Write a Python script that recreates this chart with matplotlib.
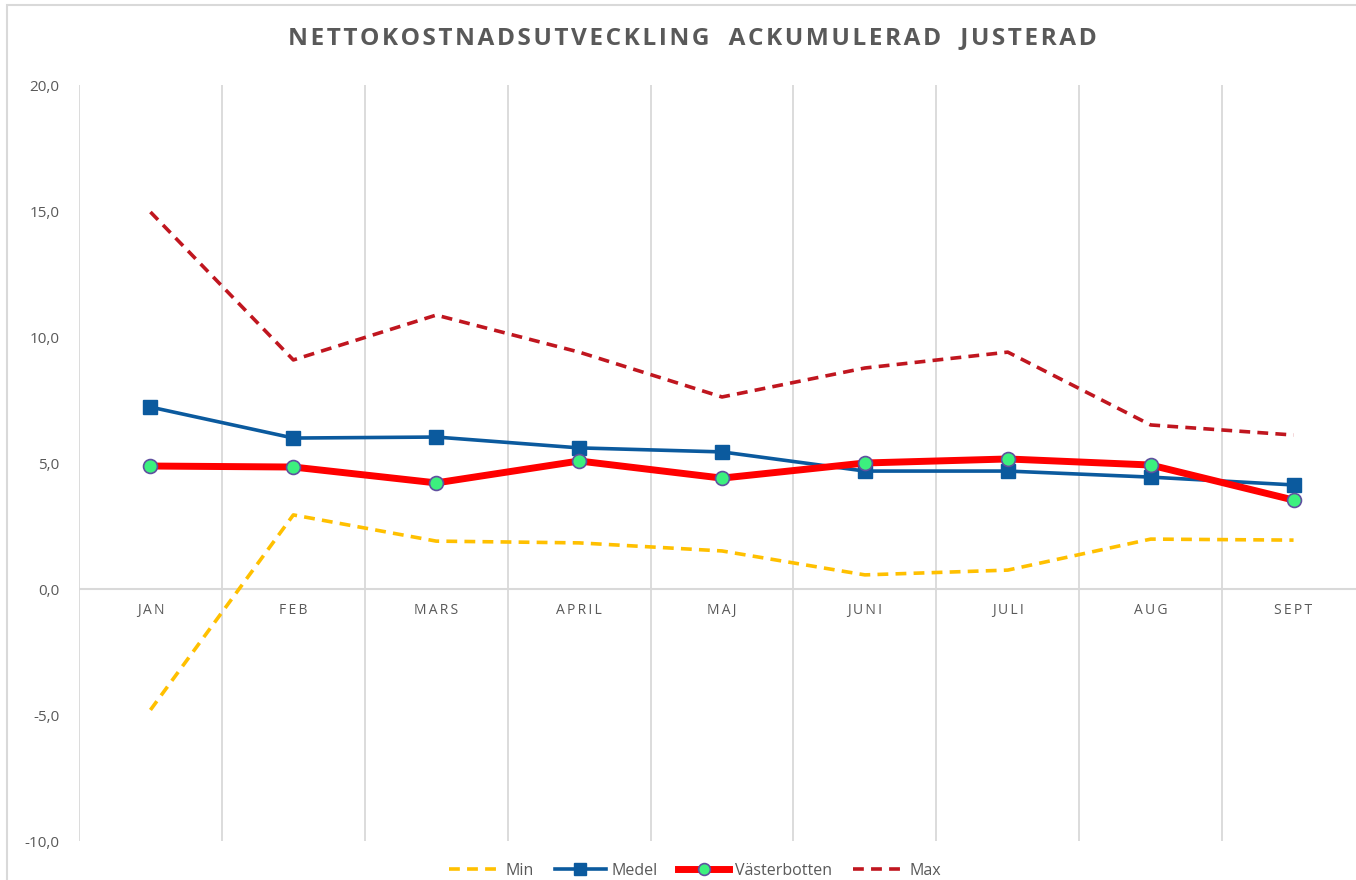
import matplotlib.pyplot as plt
from matplotlib.patches import Rectangle

# data
months = ["JAN", "FEB", "MARS", "APRIL", "MAJ", "JUNI", "JULI", "AUG", "SEPT"]
min_vals = [-4.8, 2.94, 1.90, 1.83, 1.51, 0.56, 0.75, 1.98, 1.94]
medel_vals = [7.22, 5.99, 6.03, 5.60, 5.44, 4.68, 4.68, 4.44, 4.13]
vasterbotten_vals = [4.88, 4.84, 4.21, 5.08, 4.40, 5.00, 5.16, 4.92, 3.53]
max_vals = [14.96, 9.09, 10.87, 9.40, 7.62, 8.77, 9.40, 6.51, 6.11]
y_ticks = [-10, -5, 0, 5, 10, 15, 20]

TEXT = "#595959"
GRID = "#D9D9D9"
plt.rcParams['font.family'] = ['Open Sans', 'DejaVu Sans']

fig = plt.figure(figsize=(13.56, 8.8), dpi=100)
ax = fig.add_axes([79 / 1356, 1 - 841 / 880, 1286 / 1356, 756 / 880])

# outer chart frame (cut off on the right and bottom)
fig.patches.append(Rectangle((7 / 1356, -0.1), 1.1, 0.1 + (880 - 5) / 880,
                             transform=fig.transFigure, fill=False,
                             edgecolor=GRID, linewidth=1.5, zorder=0))

x = list(range(len(months)))
ax.plot(x, max_vals, color="#C0161F", linestyle=(0, (3, 2)), linewidth=2.6,
        label="Max", zorder=3)
ax.plot(x, min_vals, color="#FFC000", linestyle=(0, (3, 2)), linewidth=2.6,
        label="Min", zorder=3)
ax.plot(x, medel_vals, color="#0B5A9E", linewidth=2.6, marker="s",
        markersize=10, label="Medel", zorder=4)
ax.plot(x, vasterbotten_vals, color="#FF0000", linewidth=5, marker="o",
        markersize=10, markerfacecolor="#3CF07E", markeredgecolor="#6050A0",
        markeredgewidth=1.2, label="Västerbotten", zorder=5)

ax.set_xlim(-0.5, len(months) - 0.5)
ax.set_ylim(-10, 20)
ax.set_yticks(y_ticks)
ax.set_yticklabels([f"{v:.1f}".replace(".", ",") for v in y_ticks])
ax.set_xticks([])

# month labels sit just under the zero line
for i, m in enumerate(months):
    ax.text(i, -0.55, "\u2009".join(m), ha="center", va="top",
            fontsize=10, color=TEXT)

# vertical category boundary lines
for b in range(len(months) + 1):
    ax.axvline(b - 0.5, color=GRID, linewidth=1.3, zorder=1)
ax.axhline(0, color=GRID, linewidth=1.5, zorder=1)

for s in ax.spines.values():
    s.set_visible(False)
ax.tick_params(axis="y", length=0, labelsize=11, labelcolor=TEXT, pad=14)

title = "NETTOKOSTNADSUTVECKLING ACKUMULERAD JUSTERAD"
spaced = "   ".join("\u200a".join(w) for w in title.split(" "))
fig.text(692 / 1356, 1 - 38 / 880, spaced,
         ha="center", va="center", fontsize=17.6, fontweight="bold", color=TEXT)

handles, labels = ax.get_legend_handles_labels()
order = [1, 2, 3, 0]
fig.legend([handles[i] for i in order], [labels[i] for i in order],
           loc="center", bbox_to_anchor=(695 / 1356, 1 - 871 / 880), ncol=4,
           frameon=False, fontsize=11.5, handlelength=3.2, columnspacing=1.3,
           handletextpad=0.35, markerscale=0.85, labelcolor=TEXT)

fig.savefig("out.png", dpi=100)
